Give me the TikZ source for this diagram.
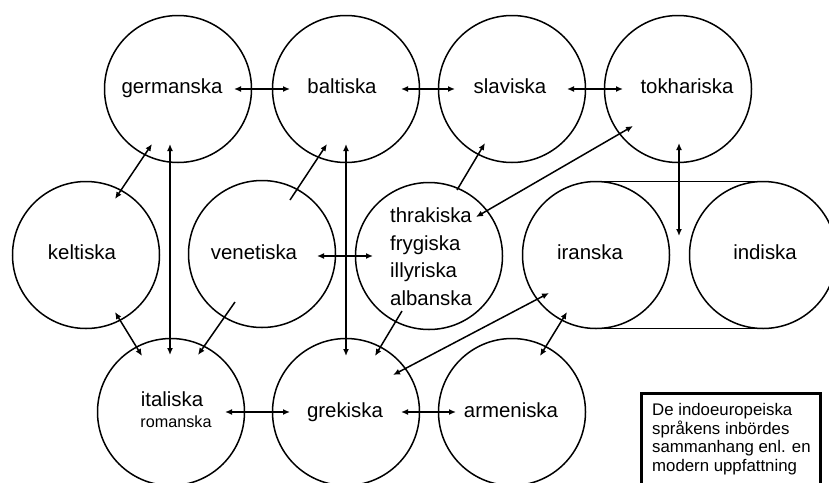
\documentclass[tikz,border=0pt]{standalone}
\usepackage{fontspec}
\setmainfont{Liberation Sans}
\usetikzlibrary{arrows.meta,calc}
\begin{document}
\begin{tikzpicture}[x=1pt,y=-1pt,
  circ/.style={draw,circle,line width=1.5pt,minimum size=147pt,inner sep=0pt,outer sep=0pt},
  lbl/.style={font=\fontsize{20.4}{24}\selectfont,inner sep=0pt,anchor=base},
  conn/.style={line width=1.5pt},
  two/.style={conn,{Latex[length=7pt,width=6pt]}-{Latex[length=7pt,width=6pt]}},
  one/.style={conn,-{Latex[length=7pt,width=6pt]}}]
\useasboundingbox (0,0) rectangle (829,482);
\clip (0,0) rectangle (829,482);
% circles
\node[circ] (germ) at (178,89) {};
\node[circ] (balt) at (346,89) {};
\node[circ] (slav) at (512,89) {};
\node[circ] (tokh) at (678,89) {};
\node[circ] (kelt) at (86,255) {};
\node[circ] (vene) at (262,254) {};
\node[circ] (thrak) at (429,256) {};
\node[circ] (iran) at (596,255) {};
\node[circ] (indi) at (763,255) {};
\node[circ] (ital) at (171,412) {};
\node[circ] (grek) at (346,412) {};
\node[circ] (arme) at (512,412) {};
% stadium lines
\draw[line width=1.5pt] (iran.north) -- (indi.north);
\draw[line width=1.5pt] (iran.south) -- (indi.south);
% labels
\node[lbl] (tgerm) at (172,93) {germanska};
\node[lbl] (tbalt) at (342,93) {baltiska};
\node[lbl] (tslav) at (510,93) {slaviska};
\node[lbl] (ttokh) at (687,93) {tokhariska};
\node[lbl] (tkelt) at (82,259) {keltiska};
\node[lbl] (tvene) at (254,259) {venetiska};
\node[lbl,anchor=north west,align=left,font=\fontsize{20.4}{27.7}\selectfont] (tthrak) at (390,207.5) {thrakiska\\frygiska\\illyriska\\albanska};
\node[lbl] (tiran) at (590,259) {iranska};
\node[lbl] (tindi) at (765,259) {indiska};
\node[lbl] (tital) at (172,406) {italiska};
\node[lbl,font=\fontsize{16.2}{20}\selectfont] (troma) at (176,427) {romanska};
\node[lbl] (tgrek) at (345,417) {grekiska};
\node[lbl] (tarme) at (511,417) {armeniska};
% connectors
\draw[two] ($(germ)+(56,0)$) -- ($(balt)+(-56,0)$);
\draw[two] ($(balt)+(55,0)$) -- ($(slav)+(-57,0)$);
\draw[two] ($(slav)+(55,0)$) -- ($(tokh)+(-55,0)$);
\draw[two] ($(germ)+(-26,55)$) -- ($(kelt)+(29,-56)$);
\draw[two] ($(germ)+(-8,55)$) -- ($(ital)+(-1,-57)$);
\draw[one] ($(vene)+(28,-54)$) -- ($(balt)+(-19,55)$);
\draw[two] ($(balt)+(0,55)$) -- ($(grek)+(0,-56)$);
\draw[one] ($(thrak)+(28,-66)$) -- ($(slav)+(-27,54)$);
\draw[two] ($(tokh)+(-45,37)$) -- ($(thrak)+(47,-39)$);
\draw[two] ($(tokh)+(1,54)$) -- ($(iran)+(83,-19)$);
\draw[two] ($(vene)+(55,2)$) -- ($(thrak)+(-56,0)$);
\draw[two] ($(kelt)+(29,57)$) -- ($(ital)+(-29,-56)$);
\draw[one] ($(vene)+(-27,48)$) -- ($(ital)+(27,-57)$);
\draw[one] ($(thrak)+(-27,55)$) -- ($(grek)+(29,-56)$);
\draw[two] ($(iran)+(-47,38)$) -- ($(grek)+(47,-37)$);
\draw[two] ($(iran)+(-29,57)$) -- ($(arme)+(28,-56)$);
\draw[two] ($(ital)+(54,0)$) -- ($(grek)+(-56,0)$);
\draw[two] ($(grek)+(55,0)$) -- ($(arme)+(-56,0)$);
% legend
\node[draw,line width=3pt,anchor=north west,minimum width=179pt,minimum height=110pt,inner sep=0pt,outer sep=0pt] (legbox) at (641,393) {};
\node[anchor=north west,align=left,inner sep=0pt,font=\fontsize{16.8}{18.7}\selectfont] (legtxt) at (652,403) {De indoeuropeiska\\språkens inbördes\\sammanhang enl. en\\modern uppfattning};
\end{tikzpicture}
\end{document}
